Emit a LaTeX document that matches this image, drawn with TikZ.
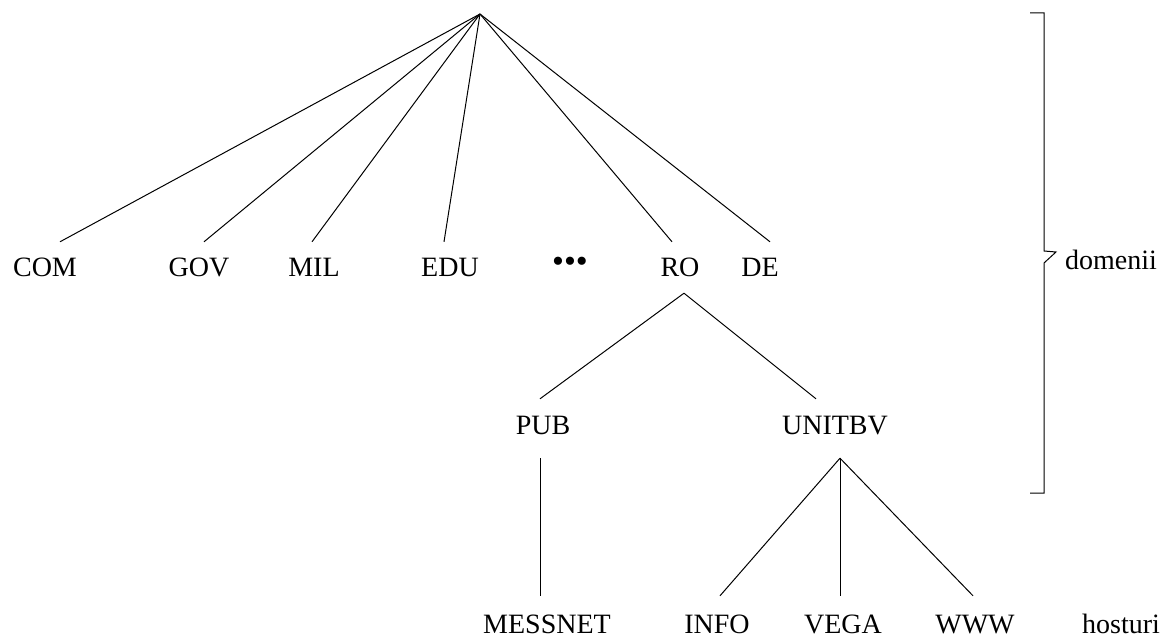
\documentclass[tikz,border=0pt]{standalone}
\usepackage{fontspec}
\setmainfont{Liberation Serif}
\begin{document}
\begin{tikzpicture}[x=1pt,y=1pt,
  lbl/.style={anchor=base,inner xsep=0pt,inner ysep=16pt,text height=19pt,text depth=0pt,
    font=\fontsize{28}{28}\selectfont},
  edge/.style={line width=1pt},
  brace/.style={line width=1pt,line join=miter}]
\useasboundingbox (0,0) rectangle (1163,-639);

% root of the name tree
\coordinate (root) at (480,-14);

% top-level domains
\node[lbl] (com) at (45,-277) {COM};
\node[lbl] (gov) at (199,-277) {GOV};
\node[lbl] (mil) at (314,-277) {MIL};
\node[lbl] (edu) at (450,-277) {EDU};
\node[anchor=base,inner sep=0pt,font=\fontsize{34}{34}\selectfont] (dots) at (570,-273) {•••};
\node[lbl] (ro) at (680,-277) {RO};
\node[lbl] (de) at (760,-277) {DE};

% second level
\node[lbl] (pub) at (543,-434) {PUB};
\node[lbl] (unitbv) at (835,-434) {UNITBV};

% hosts
\node[lbl] (messnet) at (547,-633) {MESSNET};
\node[lbl] (info) at (717,-633) {INFO};
\node[lbl] (vega) at (843,-633) {VEGA};
\node[lbl] (www) at (975,-633) {WWW};
\node[lbl] (hosts) at (1121,-633) {hosturi};

% edges from the root
\draw[edge] (root) -- ([xshift=15pt]com.north);
\draw[edge] (root) -- ([xshift=5pt]gov.north);
\draw[edge] (root) -- ([xshift=-2pt]mil.north);
\draw[edge] (root) -- ([xshift=-6pt]edu.north);
\draw[edge] (root) -- ([xshift=-8pt]ro.north);
\draw[edge] (root) -- ([xshift=10pt]de.north);

% edges below RO
\draw[edge] ([xshift=4pt]ro.south) -- ([xshift=-3pt]pub.north);
\draw[edge] ([xshift=4pt]ro.south) -- ([xshift=-19pt]unitbv.north);

% edges to the hosts
\draw[edge] ([xshift=-3pt,yshift=-8pt]pub.south) -- ([xshift=-7pt,yshift=2pt]messnet.north);
\draw[edge] ([xshift=5pt,yshift=-8pt]unitbv.south) -- ([xshift=3pt,yshift=2pt]info.north);
\draw[edge] ([xshift=5pt,yshift=-8pt]unitbv.south) -- ([xshift=-3pt,yshift=2pt]vega.north);
\draw[edge] ([xshift=5pt,yshift=-8pt]unitbv.south) -- ([xshift=-2pt,yshift=2pt]www.north);

% bracket grouping the domain levels
\draw[brace] (1030,-13) -- (1044,-13) -- (1044,-251) -- (1056,-252) -- (1044,-263)
  -- (1044,-493) -- (1030,-493);
\node[anchor=base west,inner sep=0pt,font=\fontsize{28}{28}\selectfont] (domains) at (1065,-270) {domenii};
\end{tikzpicture}
\end{document}
